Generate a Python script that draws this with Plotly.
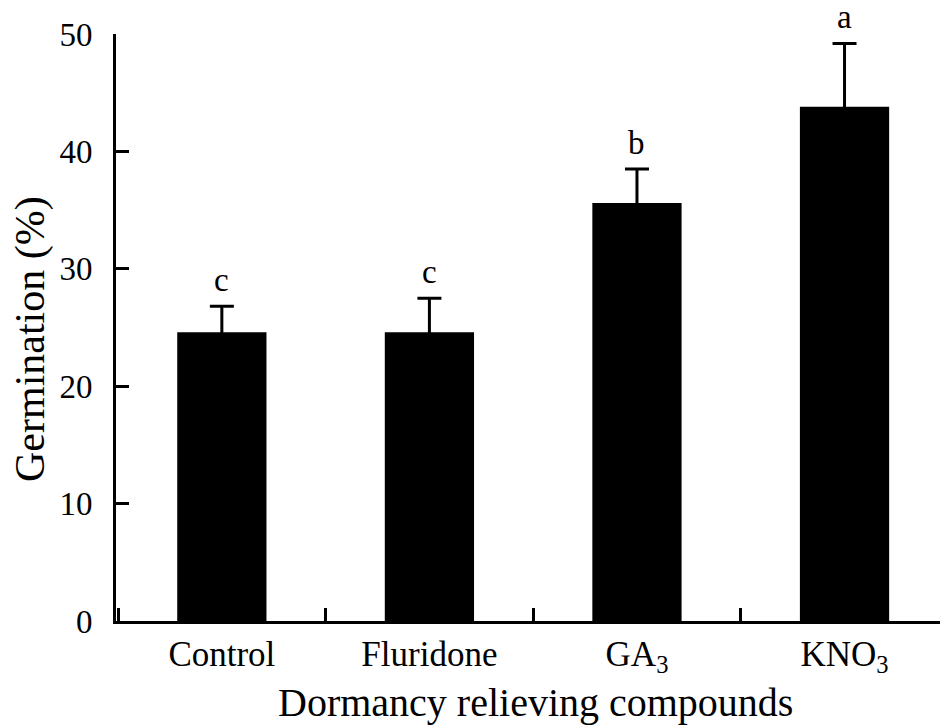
import plotly.graph_objects as go

categories = ["Control", "Fluridone", "GA<sub>3</sub>", "KNO<sub>3</sub>"]
germination = [24.6, 24.6, 35.6, 43.8]
errors = [2.2, 2.9, 2.9, 5.4]
letters = ["c", "c", "b", "a"]
y_ticks = [0, 10, 20, 30, 40, 50]

FONT = "Liberation Serif"

fig = go.Figure()
fig.add_trace(go.Bar(
    x=categories,
    y=germination,
    width=0.43,
    marker=dict(color="black", line=dict(color="black", width=0)),
    error_y=dict(type="data", symmetric=True, array=errors,
                 color="black", thickness=3, width=12),
    showlegend=False,
))

for c, m, e, t in zip(categories, germination, errors, letters):
    fig.add_annotation(x=c, y=m + e, text=t, showarrow=False,
                       yanchor="bottom", yshift=6,
                       font=dict(family=FONT, size=33, color="black"))

# axis titles as annotations for precise placement
fig.add_annotation(text="Dormancy relieving compounds", xref="paper", yref="paper",
                   x=(535 - 116) / 824, y=(621 - 702) / 587,
                   xanchor="center", yanchor="middle",
                   showarrow=False, font=dict(family=FONT, size=40, color="black"))
fig.add_annotation(text="Germination (%)", xref="paper", yref="paper",
                   x=(30 - 116) / 824, y=(621 - 339) / 587,
                   xanchor="center", yanchor="middle",
                   textangle=-90, showarrow=False,
                   font=dict(family=FONT, size=42, color="black"))

fig.update_layout(
    width=940, height=727,
    margin=dict(l=116, r=0, t=34, b=106),
    paper_bgcolor="white", plot_bgcolor="white",
    font=dict(family=FONT, color="black"),
    bargap=0.57,
)
fig.update_xaxes(
    type="category",
    range=[-0.51, 3.46],
    showline=True, linecolor="black", linewidth=3,
    ticks="inside", tickson="boundaries", ticklen=13, tickwidth=2.5,
    tickcolor="black",
    tickfont=dict(family=FONT, size=35, color="black"),
    ticklabelstandoff=0,
    showgrid=False, zeroline=False,
    automargin=False,
)
fig.update_yaxes(
    range=[0, 50],
    tickvals=y_ticks,
    showline=True, linecolor="black", linewidth=3,
    ticks="inside", ticklen=13, tickwidth=3, tickcolor="black",
    tickfont=dict(family=FONT, size=33, color="black"),
    ticklabelstandoff=14,
    showgrid=False, zeroline=False,
    automargin=False,
)

fig.write_html("out.html",
               config={"displayModeBar": False},
               post_script="document.body.style.margin='0px';")
